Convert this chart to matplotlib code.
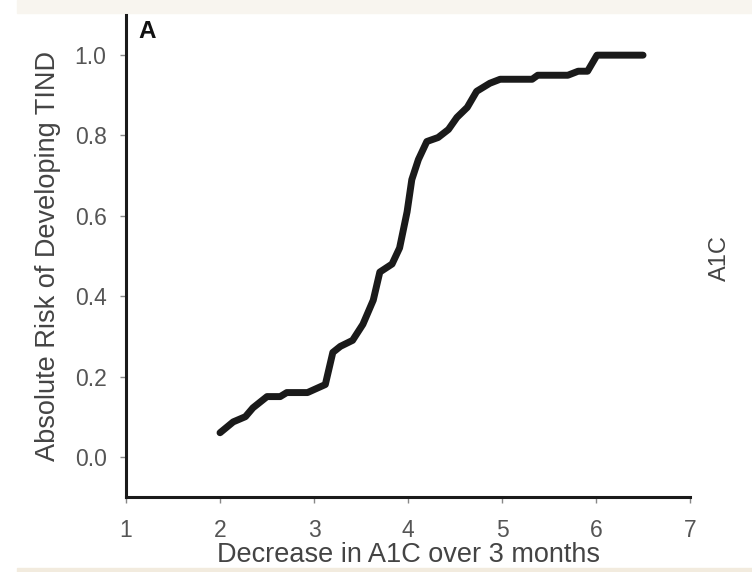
import matplotlib
matplotlib.use('Agg')
import matplotlib.pyplot as plt
from matplotlib.patches import Rectangle

plt.rcParams['font.family'] = ['Liberation Sans', 'DejaVu Sans']

# кривая абсолютного риска
a1c_drop = [2.00, 2.14, 2.27, 2.35, 2.50, 2.64, 2.71, 2.93, 3.12, 3.20, 3.28, 3.41,
            3.52, 3.63, 3.70, 3.83, 3.91, 3.99, 4.04, 4.11, 4.20, 4.32, 4.43,
            4.52, 4.63, 4.73, 4.87, 4.98, 5.32, 5.38, 5.70, 5.81, 5.91, 6.01, 6.50]
risk = [0.06, 0.087, 0.10, 0.122, 0.15, 0.15, 0.16, 0.16, 0.18, 0.26, 0.275, 0.29,
        0.33, 0.39, 0.46, 0.48, 0.52, 0.61, 0.69, 0.74, 0.785, 0.795, 0.815,
        0.845, 0.87, 0.91, 0.93, 0.94, 0.94, 0.95, 0.95, 0.96, 0.96, 1.0, 1.0]

x_ticks = [1, 2, 3, 4, 5, 6, 7]
y_ticks = [0.0, 0.2, 0.4, 0.6, 0.8, 1.0]

fig = plt.figure(figsize=(7.52, 5.72), dpi=100)
ax = fig.add_axes([0.1676, 0.1311, 0.75, 0.8427])

# бежевые полоски сверху и снизу
fig.patches.append(Rectangle((0.023, 0.977), 0.977, 0.023, transform=fig.transFigure,
                             color='#f8f5ef', zorder=-1))
fig.patches.append(Rectangle((0.023, 0.0), 0.977, 0.007, transform=fig.transFigure,
                             color='#f2ebde', zorder=-1))

ax.plot(a1c_drop, risk, color='#1a1a1a', linewidth=5, solid_capstyle='round',
        solid_joinstyle='round')

ax.set_xlim(1, 7)
ax.set_ylim(-0.1, 1.1)
ax.set_xticks(x_ticks)
ax.set_xticklabels([str(t) for t in x_ticks])
ax.set_yticks(y_ticks)
ax.set_yticklabels(['%.1f' % t for t in y_ticks])

for s in ['top', 'right']:
    ax.spines[s].set_visible(False)
for s in ['left', 'bottom']:
    ax.spines[s].set_linewidth(2.2)
    ax.spines[s].set_color('#1a1a1a')

ax.tick_params(axis='both', direction='out', length=4, width=1, color='#888888',
               labelsize=16.5, labelcolor='#555555')
ax.tick_params(axis='x', pad=12)
ax.tick_params(axis='y', pad=10)

ax.set_xlabel('Decrease in A1C over 3 months', fontsize=19.5, color='#444444', labelpad=0)
ax.set_ylabel('Absolute Risk of Developing TIND', fontsize=19.5, color='#444444', labelpad=10)

ax.text(0.022, 0.99, 'A', transform=ax.transAxes, fontsize=17.5, fontweight='bold',
        ha='left', va='top', color='#111111')
fig.text(0.958, 0.549, 'A1C', rotation=90, fontsize=17, color='#444444',
         ha='center', va='center')

fig.savefig('out.png', dpi=100)
